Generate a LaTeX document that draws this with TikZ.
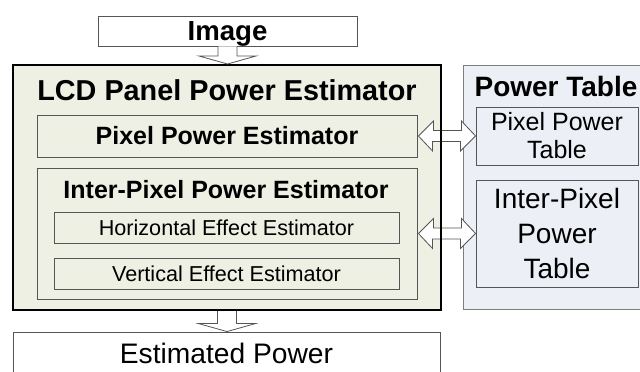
\documentclass[tikz,border=0pt]{standalone}
\usepackage{fontspec}
\setmainfont{Liberation Sans}
\usetikzlibrary{calc}
\definecolor{panelfill}{RGB}{237,240,226}
\definecolor{tablefill}{RGB}{236,239,245}
\definecolor{edgegray}{RGB}{125,125,125}
\definecolor{innergray}{RGB}{85,85,85}

\begin{document}
\begin{tikzpicture}[x=1pt,y=-1pt,
  box/.style={draw=innergray,line width=0.9pt,inner sep=0pt,align=center},
  panelbox/.style={box,fill=panelfill},
  tablebox/.style={box,fill=tablefill},
  blockarrow/.style={draw=innergray,fill=white,line width=0.8pt,line join=miter},
  bigbold/.style={font=\bfseries\fontsize{28.8}{34}\selectfont},
  midbold/.style={font=\bfseries\fontsize{25}{29}\selectfont},
  small/.style={font=\fontsize{21.6}{25}\selectfont}]
  \useasboundingbox (0,0) rectangle (640,372);
  \clip (0,0) rectangle (640,372);

  % input and output
  \node[box,fill=white,minimum width=259pt,minimum height=30pt,text depth=0pt,
    font=\bfseries\fontsize{27.6}{32}\selectfont] (image) at (227.5,31) {Image};
  \node[box,fill=white,minimum width=427pt,minimum height=60pt] (est) at (226.5,362) {};
  \node[font=\fontsize{28.2}{34}\selectfont] (esttext) at (226.5,353) {Estimated Power};

  % estimator
  \node[panelbox,draw=black,line width=2pt,minimum width=428pt,minimum height=245pt] (lcd) at (227,187.5) {};
  \node[bigbold] (lcdtitle) at (227,90) {LCD Panel Power Estimator};
  \node[panelbox,midbold,minimum width=380pt,minimum height=42pt] (pixest) at (227,136) {Pixel Power Estimator};
  \node[panelbox,minimum width=380pt,minimum height=131pt] (interest) at (227,233.5) {};
  \node[midbold] (intertitle) at (226,190) {Inter-Pixel Power Estimator};
  \node[panelbox,small,minimum width=345pt,minimum height=31pt] (horiz) at (226.5,227.5) {Horizontal Effect Estimator};
  \node[panelbox,small,minimum width=345pt,minimum height=31pt] (vert) at (226.5,273.5) {Vertical Effect Estimator};

  % tables
  \node[tablebox,draw=edgegray,minimum width=197pt,minimum height=244pt] (ptable) at (561.5,187) {};
  \node[font=\bfseries\fontsize{28}{33}\selectfont] (pttitle) at (556,86) {Power Table};
  \node[tablebox,minimum width=162pt,minimum height=58pt,font=\fontsize{25}{28}\selectfont] (pixtab) at (557,136) {Pixel Power\\Table};
  \node[tablebox,minimum width=162pt,minimum height=107pt,font=\fontsize{28}{35}\selectfont] (intertab) at (557,233.5) {Inter-Pixel\\Power\\Table};

  % arrows
  \foreach \a/\b in {image/lcd,lcd/est}
    \draw[blockarrow] ($(\a.south)+(-9.5,0)$) -- ($(\a.south |- \b.north)+(-9.5,-8)$)
      -- ++(-19,0) -- (\a.south |- \b.north) -- ++(28.5,-8) -- ++(-19,0)
      -- ($(\a.south)+(9.5,0)$);
  \foreach \a/\b in {pixest/pixtab,interest/intertab}
    \draw[blockarrow] ($(\a.east)+(1,0)$) -- ++(15,-15) -- ++(0,9.5) -- ++(28,0)
      -- ++(0,-9.5) -- (\b.west) -- ++(-15,15) -- ++(0,-9.5) -- ++(-28,0)
      -- ++(0,9.5) -- cycle;
  \draw[black,line width=2pt] (lcd.north east) ++(-1,1) -- ($(lcd.south east)+(-1,-1)$);
\end{tikzpicture}
\end{document}
